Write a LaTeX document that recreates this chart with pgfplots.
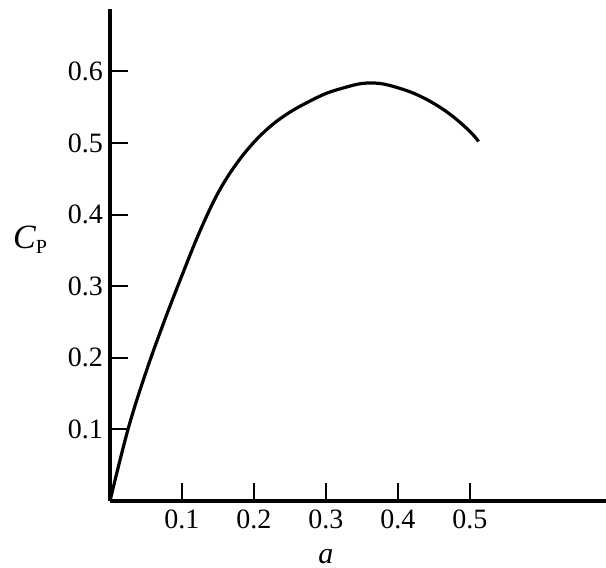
\documentclass[border=0pt]{standalone}
\usepackage{pgfplots}
\pgfplotsset{compat=1.18}
\usepackage{fontspec}
\setmainfont{Liberation Serif}
\begin{document}
\begin{tikzpicture}
\begin{axis}[
  at={(0,0)}, anchor=south west,
  scale only axis, width=248pt, height=246pt,
  xmin=0, xmax=0.689, ymin=0, ymax=0.687,
  axis lines=left,
  axis line style={-, line width=1.6pt, black},
  xtick={0.1,0.2,0.3,0.4,0.5},
  xticklabels={0.1,0.2,0.3,0.4,0.5},
  ytick={0.1,0.2,0.3,0.4,0.5,0.6},
  yticklabels={0.1,0.2,0.3,0.4,0.5,0.6},
  tick align=inside,
  major tick length=9pt,
  tick style={line width=1pt, black},
  tick label style={font=\fontsize{14}{16}\selectfont},
  xticklabel style={yshift=-1pt},
  yticklabel style={xshift=0pt},
  clip=false,
]
\addplot[line width=1.6pt, black, smooth, tension=0.6] coordinates {
(0,0)
(0.025,0.100)
(0.05,0.180)
(0.075,0.250)
(0.1,0.315)
(0.125,0.377)
(0.15,0.430)
(0.175,0.470)
(0.2,0.501)
(0.225,0.525)
(0.25,0.543)
(0.275,0.557)
(0.3,0.569)
(0.325,0.577)
(0.35,0.583)
(0.375,0.583)
(0.4,0.577)
(0.425,0.568)
(0.45,0.555)
(0.475,0.538)
(0.5,0.516)
(0.512,0.502)
};
\node[inner sep=0pt] at (axis cs:0.3,0) [yshift=-28pt] {\fontsize{15}{17}\selectfont\itshape a};
\node at (axis cs:0,0.3645) [xshift=-40pt] {\fontsize{17}{19}\selectfont\itshape C\raisebox{-0.3ex}{\upshape\fontsize{10}{12}\selectfont P}};
\end{axis}
\pgfresetboundingbox
\path[use as bounding box] (-55pt,-33.5pt) rectangle (248pt,250.5pt);
\end{tikzpicture}
\end{document}
